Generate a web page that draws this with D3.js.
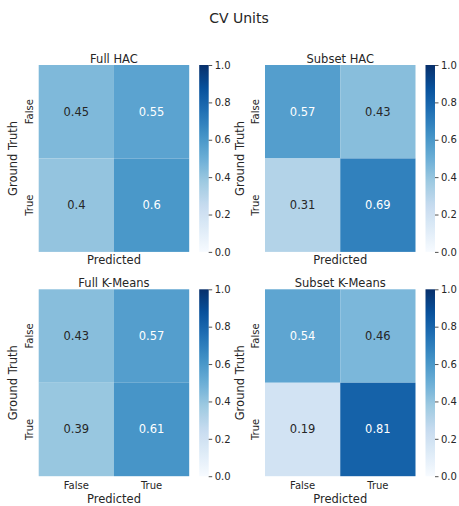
<!DOCTYPE html>
<html>
<head>
<meta charset="utf-8">
<script src="https://cdn.jsdelivr.net/npm/d3@7"></script>
<style>
  html, body { margin: 0; padding: 0; background: #fff; }
  svg { display: block; }
  text { font-family: "DejaVu Sans", sans-serif; fill: #262626; }
</style>
</head>
<body>
<script>
// ---- data ----
const figureTitle = "CV Units";
const panelTitles = ["Full HAC", "Subset HAC", "Full K-Means", "Subset K-Means"];
const classLabels = ["False", "True"];
const xAxisLabel = "Predicted";
const yAxisLabel = "Ground Truth";
// rows = ground truth, columns = predicted (row-normalised)
const fullHAC      = [[0.45, 0.55], [0.40, 0.60]];
const subsetHAC    = [[0.57, 0.43], [0.31, 0.69]];
const fullKMeans   = [[0.43, 0.57], [0.39, 0.61]];
const subsetKMeans = [[0.54, 0.46], [0.19, 0.81]];
const colorbarTicks = [0, 0.2, 0.4, 0.6, 0.8, 1.0];

const matrices = [fullHAC, subsetHAC, fullKMeans, subsetKMeans];

// ---- layout ----
const W = 459, H = 506;
const colLeft = [38.7, 265];
const rowTop = [65, 289.3];
const hmW = 150.5, hmH = 186.9;
const cbOffset = 160.5, cbW = 9.5;

// Blues colormap: linear interpolation through the ColorBrewer stops
const bluesStops = ["#f7fbff", "#deebf7", "#c6dbef", "#9ecae1", "#6baed6",
                    "#4292c6", "#2171b5", "#08519c", "#08306b"];
const blues = d3.scaleLinear()
  .domain(d3.range(bluesStops.length).map(i => i / (bluesStops.length - 1)))
  .range(bluesStops)
  .interpolate(d3.interpolateRgb)
  .clamp(true);

function luminance(c) {
  const rgb = d3.rgb(c);
  const f = v => { v /= 255; return v <= 0.03928 ? v / 12.92 : Math.pow((v + 0.055) / 1.055, 2.4); };
  return 0.2126 * f(rgb.r) + 0.7152 * f(rgb.g) + 0.0722 * f(rgb.b);
}
const fmt = d3.format(".2~g");

const svg = d3.select("body").append("svg")
  .attr("width", W).attr("height", H);

// colorbar gradient
const defs = svg.append("defs");
const grad = defs.append("linearGradient")
  .attr("id", "bluesGrad")
  .attr("x1", 0).attr("y1", 1).attr("x2", 0).attr("y2", 0);
d3.range(0, 1.0001, 0.02).forEach(t => {
  grad.append("stop").attr("offset", t).attr("stop-color", blues(t));
});

svg.append("text")
  .attr("x", 239).attr("y", 18)
  .attr("text-anchor", "middle").attr("dominant-baseline", "central")
  .style("font-size", "14px")
  .text(figureTitle);

matrices.forEach((m, i) => {
  const r = Math.floor(i / 2), c = i % 2;
  const left = colLeft[c], top = rowTop[r];
  const g = svg.append("g").attr("transform", `translate(${left},${top})`);

  const x = d3.scaleBand().domain(classLabels).range([0, hmW]);
  const y = d3.scaleBand().domain(classLabels).range([0, hmH]);

  const cells = [];
  m.forEach((row, ri) => row.forEach((v, ci) => cells.push({ gt: classLabels[ri], pr: classLabels[ci], v })));

  g.selectAll("rect.cell").data(cells).enter().append("rect")
    .attr("class", "cell")
    .attr("x", d => x(d.pr)).attr("y", d => y(d.gt))
    .attr("width", x.bandwidth()).attr("height", y.bandwidth())
    .attr("fill", d => blues(d.v));

  g.selectAll("text.annot").data(cells).enter().append("text")
    .attr("class", "annot")
    .attr("x", d => x(d.pr) + x.bandwidth() / 2)
    .attr("y", d => y(d.gt) + y.bandwidth() / 2)
    .attr("text-anchor", "middle").attr("dominant-baseline", "central")
    .style("font-size", "11.5px")
    .style("fill", d => luminance(blues(d.v)) > 0.408 ? "#262626" : "#ffffff")
    .text(d => fmt(d.v));

  // panel title
  g.append("text")
    .attr("x", hmW / 2).attr("y", -2.5)
    .attr("text-anchor", "middle")
    .style("font-size", "11.5px")
    .text(panelTitles[i]);

  // y axis (ground truth)
  const yAxis = g.append("g").call(d3.axisLeft(y).tickSize(0).tickPadding(0));
  yAxis.select(".domain").remove();
  yAxis.selectAll(".tick text")
    .attr("x", null).attr("dy", null)
    .attr("transform", "translate(-9.5,0) rotate(-90)")
    .attr("text-anchor", "middle").attr("dominant-baseline", "central")
    .style("font-size", "10px").style("font-family", "DejaVu Sans").attr("fill", "#262626");

  g.append("text")
    .attr("transform", `translate(-25.5,${hmH / 2}) rotate(-90)`)
    .attr("text-anchor", "middle").attr("dominant-baseline", "central")
    .style("font-size", "11.5px")
    .text(yAxisLabel);

  // x axis (predicted) — tick labels only on the bottom row
  let xLabelY = hmH + 8;
  if (r === 1) {
    const xAxis = g.append("g").attr("transform", `translate(0,${hmH})`)
      .call(d3.axisBottom(x).tickSize(0).tickPadding(0));
    xAxis.select(".domain").remove();
    xAxis.selectAll(".tick text")
      .attr("y", 9.5).attr("dy", null)
      .attr("dominant-baseline", "central")
      .style("font-size", "10px").style("font-family", "DejaVu Sans").attr("fill", "#262626");
    xLabelY = hmH + 22.5;
  }
  g.append("text")
    .attr("x", hmW / 2).attr("y", xLabelY)
    .attr("text-anchor", "middle").attr("dominant-baseline", "central")
    .style("font-size", "11.5px")
    .text(xAxisLabel);

  // colorbar
  const cb = g.append("g").attr("transform", `translate(${cbOffset},0)`);
  cb.append("rect")
    .attr("width", cbW).attr("height", hmH)
    .attr("fill", "url(#bluesGrad)");
  const cScale = d3.scaleLinear().domain([0, 1]).range([hmH, 0]);
  const cAxis = cb.append("g").attr("transform", `translate(${cbW},0)`)
    .call(d3.axisRight(cScale).tickValues(colorbarTicks).tickFormat(d3.format(".1f"))
      .tickSize(3.5).tickPadding(2.5));
  cAxis.select(".domain").remove();
  cAxis.selectAll(".tick line").attr("stroke", "#262626").attr("stroke-width", 0.8);
  cAxis.selectAll(".tick text")
    .style("font-size", "10px").style("font-family", "DejaVu Sans").attr("fill", "#262626");
});
</script>
</body>
</html>
